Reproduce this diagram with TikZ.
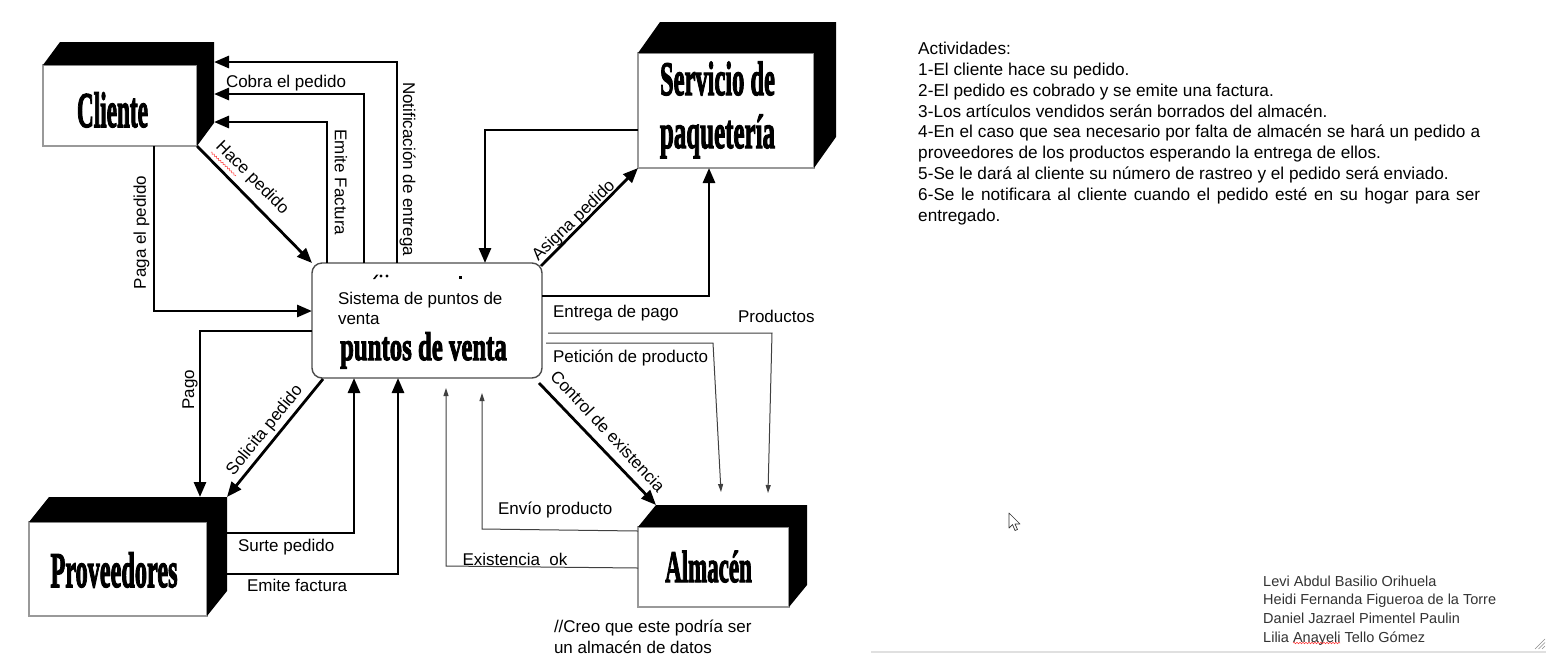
\documentclass[tikz,border=0pt]{standalone}
\usepackage{graphicx}
\usepackage{fontspec}
\setmainfont{Liberation Sans}
\newfontfamily\condserif{Liberation Serif}[BoldFeatures={FakeBold=3}]
\usetikzlibrary{arrows.meta,calc,decorations.pathmorphing}
\newcommand\bigtxt[3]{\scalebox{#1}[1]{\fontsize{#2}{#2}\selectfont\condserif\bfseries #3}}
\newcommand\extrude[3]{\fill[black] (#1.north west) -- ++(#2,#3) -- ($(#1.north east)+(#2,#3)$) -- ($(#1.south east)+(#2,#3)$) -- (#1.south east) -- (#1.north east) -- cycle;}
\begin{document}
\begin{tikzpicture}[x=1pt,y=-1pt,
  lbl/.style={inner sep=0pt, outer sep=0pt, font=\fontsize{17}{20}\selectfont},
  face/.style={draw=black!40, line width=1.4pt, fill=white, inner sep=0pt, outer sep=0pt},
  bigt/.style={inner sep=0pt, outer sep=0pt, anchor=base},
  flowbig/.style={line width=2.8pt, -{Triangle[length=15pt,width=12pt]}},
  flowthin/.style={line width=1pt, draw=black!75, -{Triangle[length=8pt,width=5pt]}},
  wavy/.style={draw=red!80, line width=0.5pt, decorate, decoration={snake, amplitude=0.8pt, segment length=3pt}}
]
\useasboundingbox[fill=white] (0,0) rectangle (1546,657);

% ---- entity boxes ----
\node[face, minimum width=154pt, minimum height=81pt] (cli) at (120,105.5) {};
\extrude{cli}{17}{-23}
\node[bigt] (clit) at (112.5,127) {\bigtxt{0.465}{50}{Cliente}};

\node[face, minimum width=176pt, minimum height=115pt] (srv) at (726,110.5) {};
\extrude{srv}{22}{-31}
\node[bigt] (srvt1) at (717.5,95) {\bigtxt{0.51}{48}{Servicio de}};
\node[bigt] (srvt2) at (717.5,148) {\bigtxt{0.52}{48}{paquetería}};

\node[face, minimum width=178pt, minimum height=94pt] (prov) at (118,569) {};
\extrude{prov}{20}{-25}
\node[bigt] (provt) at (114,587) {\bigtxt{0.485}{50}{Proveedores}};

\node[face, minimum width=151pt, minimum height=80pt] (alm) at (713.5,567) {};
\extrude{alm}{18}{-22}
\node[bigt] (almt) at (708.5,582) {\bigtxt{0.51}{45}{Almacén}};

\node[draw=black!70, line width=1.4pt, rounded corners=10pt, minimum width=230pt, minimum height=115pt, inner sep=0pt, outer sep=0pt, fill=white] (sys) at (427,320.5) {};
\node[lbl, anchor=north west, align=left] (syst) at (338,292.5) {Sistema de puntos de\\venta};
\node[bigt] (sysbig) at (423.5,360) {\bigtxt{0.62}{40}{puntos de venta}};
\fill (373,279) -- (376.5,274.5) -- (378.5,274.5) -- (375,279) -- cycle;
\fill (381,276) circle (1.6);
\fill (387,276) circle (1.6);
\fill (458.5,275.5) rectangle (461.5,278.5);

% ---- helper coordinates ----
\coordinate (cliR) at ($(cli.north east)+(17,0)$);
\coordinate (almTL) at ($(alm.north west)+(18,-22)$);
\coordinate (provT) at ($(prov.north west)+(0,-25)$);
\coordinate (provTR) at ($(prov.north east)+(20,-25)$);
\coordinate (provR) at ($(prov.east)+(20,0)$);

% ---- thick flows ----
\draw[flowbig] (397,0 |- sys.north) |- (cliR |- 0,62);
\draw[flowbig] (364,0 |- sys.north) |- (cliR |- 0,94);
\draw[flowbig] (327,0 |- sys.north) |- (cliR |- 0,122);
\draw[flowbig] (cli.south east) -- (sys.north west);
\draw[flowbig] (154,0 |- cli.south) |- (sys.west |- 0,311);
\draw[flowbig] ($(sys.north east)+(-1,3)$) -- (srv.south west);
\draw[flowbig] (sys.east |- 0,296) -| (709,0 |- srv.south);
\draw[flowbig] (srv.west |- 0,130) -| (485,0 |- sys.north);
\draw[flowbig] ($(sys.south east)+(-3,5)$) -- (almTL);
\draw[flowbig] (sys.west |- 0,331) -| (200,0 |- provT);
\draw[flowbig] ($(sys.south west)+(11,1)$) -- (provTR);
\draw[flowbig] (provR |- 0,533) -| (354,0 |- sys.south);
\draw[flowbig] (provR |- 0,574) -| (398,0 |- sys.south);

% ---- thin flows ----
\coordinate (prA) at (548,333); \coordinate (prB) at (772,333); \coordinate (prC) at (768,493);
\draw[flowthin] (prA) -- (prB) -- (prC);
\coordinate (peA) at (546,343); \coordinate (peB) at (713,343); \coordinate (peC) at (721,492);
\draw[flowthin] (peA) -- (peB) -- (peC);
\coordinate (enB) at (482,529); \coordinate (enC) at (482,393);
\draw[flowthin] (alm.west |- 0,531) -- (enB) -- (enC);
\coordinate (exB) at (446,566); \coordinate (exC) at (446,388);
\draw[flowthin] (alm.west |- 0,568) -- (exB) -- (exC);

% ---- labels ----
\node[lbl, anchor=base west] (lcobra) at (226,87) {Cobra el pedido};
\node[lbl, rotate=-90] (lnotif) at (407.5,169) {Notificación de entrega};
\node[lbl, rotate=-90] (lemitefac) at (341,182.5) {Emite Factura};
\node[lbl, rotate=90] (lpaga) at (141.5,232.5) {Paga el pedido};
\node[lbl, rotate=-45] (lhace) at (252,178) {Hace pedido};
\draw[wavy] (211,152) -- (236,176);
\node[lbl, rotate=90] (lpago) at (190,389.5) {Pago};
\node[lbl, rotate=51] (lsolic) at (265,430.5) {Solicita pedido};
\node[lbl, anchor=base west] (lsurte) at (238,551) {Surte pedido};
\node[lbl, anchor=base west] (lemiteprov) at (247,591.5) {Emite factura};
\node[lbl, rotate=44] (lasigna) at (574,221) {Asigna pedido};
\node[lbl, anchor=base west] (lentrega) at (553,317) {Entrega de pago};
\node[lbl, anchor=base west] (lprod) at (738,322) {Productos};
\node[lbl, anchor=base west] (lpetic) at (553,362) {Petición de producto};
\node[lbl, rotate=-47] (lcontrol) at (608,431) {Control de existencia};
\node[lbl, anchor=base west] (lenvio) at (498,514) {Envío producto};
\node[lbl, anchor=base west] (lexist) at (462.5,565) {Existencia\ \ ok};
\node[lbl, anchor=north west, align=left, font=\fontsize{17}{21}\selectfont] (lcmt) at (554,619.5) {//Creo que este podría ser\\un almacén de datos};

% ---- right panel ----
\node[anchor=north west, inner sep=0pt, text width=562pt, align=justify, font=\fontsize{17.2}{20.8}\selectfont] (act) at (918,42) {Actividades:\\
1-El cliente hace su pedido.\\
2-El pedido es cobrado y se emite una factura.\\
3-Los artículos vendidos serán borrados del almacén.\\
4-En el caso que sea necesario por falta de almacén se hará un pedido a\linebreak proveedores de los productos esperando la entrega de ellos.\\
5-Se le dará al cliente su número de rastreo y el pedido será enviado.\\
6-Se le notificara al cliente cuando el pedido esté en su hogar para ser\linebreak entregado.};

\node[anchor=north west, inner sep=0pt, align=left, font=\fontsize{14.5}{18.7}\selectfont, text=black!80] (auth) at (1263,575.5) {Levi Abdul Basilio Orihuela\\Heidi Fernanda Figueroa de la Torre\\Daniel Jazrael Pimentel Paulin\\Lilia Anayeli Tello Gómez};
\draw[wavy] (1293,643) -- (1340,643);

% cursor
\draw[black!80, fill=white, line width=0.7pt, line join=round] (1009,513) -- ++(0,15) -- ++(3.5,-3.5) -- ++(2.5,6) -- ++(2.5,-1) -- ++(-2.5,-5.5) -- ++(5,0) -- cycle;

% panel bottom edge and grip
\draw[black!12, line width=2.5pt] (871,652) -- (1546,652);
\draw[black!45, line width=0.6pt] (1535,649) -- (1545,639) (1538.5,649) -- (1545,642.5) (1542,649) -- (1545,646);
\end{tikzpicture}
\end{document}
